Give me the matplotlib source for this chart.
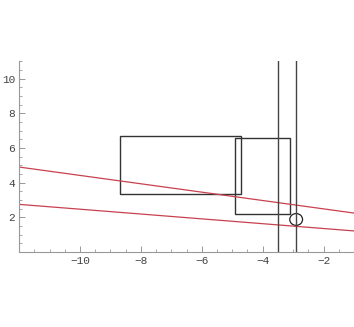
import matplotlib.pyplot as plt
from matplotlib.patches import Rectangle, Ellipse
from matplotlib.ticker import MultipleLocator

# rectangles: x0, y0, x1, y1
rect_x0 = [-8.7, -4.9]
rect_y0 = [3.33, 2.21]
rect_x1 = [-4.7, -3.09]
rect_y1 = [6.71, 6.6]

# red lines, end points at x=-12 and x=-1
line_x = [-12, -1]
line_upper = [4.9, 2.25]
line_lower = [2.75, 1.22]

# vertical lines
vlines = [-3.5, -2.9]

# small circle
circle_center = (-2.9, 1.88)
circle_w, circle_h = 0.42, 0.68

fig = plt.figure(figsize=(3.54, 3.27), dpi=100)
ax = fig.add_axes([0.054, 0.229, 0.946, 0.584])

red = '#c8414f'
ax.plot(line_x, line_upper, color=red, lw=0.9)
ax.plot(line_x, line_lower, color=red, lw=0.9)

for x0, y0, x1, y1 in zip(rect_x0, rect_y0, rect_x1, rect_y1):
    ax.add_patch(Rectangle((x0, y0), x1 - x0, y1 - y0, fill=False,
                           edgecolor='#333333', lw=1.0))

for xv in vlines:
    ax.axvline(xv, color='#444444', lw=1.0)

ax.add_patch(Ellipse(circle_center, circle_w, circle_h, fill=False,
                     edgecolor='#222222', lw=0.9))

ax.set_xlim(-12, -1)
ax.set_ylim(0, 11)

# Mathematica-like axes
for s in ['top', 'right']:
    ax.spines[s].set_visible(False)
for s in ['left', 'bottom']:
    ax.spines[s].set_color('#999999')
    ax.spines[s].set_linewidth(0.8)

ax.xaxis.set_major_locator(MultipleLocator(2))
ax.xaxis.set_minor_locator(MultipleLocator(0.5))
ax.yaxis.set_major_locator(MultipleLocator(2))
ax.yaxis.set_minor_locator(MultipleLocator(0.5))
ax.set_xticks([-10, -8, -6, -4, -2])
ax.set_yticks([2, 4, 6, 8, 10])
ax.set_xticklabels(['\u221210', '\u22128', '\u22126', '\u22124', '\u22122'])
ax.set_yticklabels(['2', '4', '6', '8', '10'])
ax.tick_params(which='both', direction='in', color='#999999',
               labelcolor='#444444', labelsize=8, pad=3)
ax.tick_params(which='major', length=4, width=0.7)
ax.tick_params(which='minor', length=2, width=0.6)
for lab in ax.get_xticklabels() + ax.get_yticklabels():
    lab.set_family('Liberation Mono')

fig.savefig('out.png', dpi=100)
